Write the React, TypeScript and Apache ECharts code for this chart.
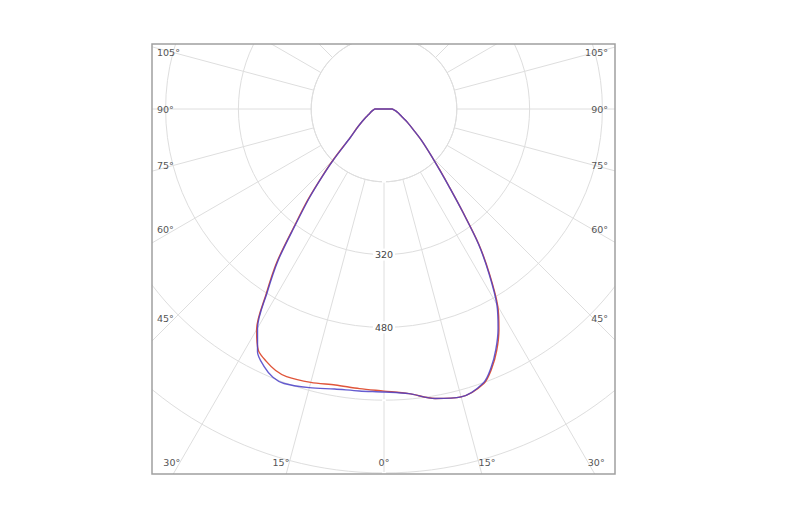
import React, { useEffect, useRef } from "react";
import * as echarts from "echarts";

// Angles (degrees from nadir; negative = left half-plane)
const ANGLES = [
  -180, -90, -85, -80, -75, -70, -65, -60, -55, -50, -45, -42.5, -40, -37.5, -35, -32.5, -30,
  -27.5, -25, -22.5, -20, -15, -10, -5, 0, 5, 10, 15, 20, 22.5, 25, 27.5, 30, 32.5, 35, 37.5,
  40, 42.5, 45, 50, 55, 60, 65, 70, 75, 80, 85, 90, 180,
];

// Luminous intensity (cd/klm) — plane drawn in red
const PLANE_RED = [
  0, 20, 23, 27, 31, 36, 45, 56, 72, 96, 157, 202, 260, 322, 410, 482, 560,
  598, 612, 622, 626, 622, 616, 617, 620, 628, 646, 655, 642, 618, 586, 547, 500, 433, 364, 283,
  223, 181, 150, 108, 78, 60, 46, 38, 32, 27, 22, 18, 0,
];

// Luminous intensity (cd/klm) — plane drawn in blue
const PLANE_BLUE = [
  0, 20, 23, 27, 31, 36, 45, 56, 72, 95, 155, 200, 256, 318, 405, 478, 556,
  602, 624, 638, 642, 634, 625, 622, 622, 628, 646, 655, 640, 615, 582, 543, 496, 430, 362, 282,
  222, 180, 150, 108, 78, 60, 46, 38, 32, 27, 22, 18, 0,
];

const RING_MAX = 960;
const RING_STEP = 160;
const RING_INNER = 160;
const RING_LABELS = [320, 480];
const ANGLE_STEP = 15;
const SIDE_LABEL_ANGLES = [105, 90, 75, 60, 45];
const BOTTOM_LABEL_ANGLES = [-30, -15, 0, 15, 30];

// layout
const W = 790;
const H = 522;
const CX = 384;
const CY = 109;
const PX_PER_UNIT = 0.455;
const FRAME = { x: 152, y: 44, w: 463, h: 430 };
const GRID_COLOR = "#dedede";
const LABEL_FONT = '9.5px "DejaVu Sans", Verdana, sans-serif';
const LABEL_COLOR = "#555";

export default function App() {
  const ref = useRef<HTMLDivElement>(null);

  useEffect(() => {
    if (!ref.current) return;
    const chart = echarts.init(ref.current, undefined, { renderer: "svg" });

    const toPolar = (vals: number[]) =>
      ANGLES.map((a, i) => [vals[i], (a + 360) % 360]);

    const fx0 = FRAME.x;
    const fy0 = FRAME.y;
    const fx1 = FRAME.x + FRAME.w;
    const fy1 = FRAME.y + FRAME.h;

    const masks = [
      { x: 0, y: 0, width: W, height: fy0 },
      { x: 0, y: fy1, width: W, height: H - fy1 },
      { x: 0, y: 0, width: fx0, height: H },
      { x: fx1, y: 0, width: W - fx1, height: H },
    ].map((s) => ({
      type: "rect",
      shape: s,
      style: { fill: "#ffffff" },
      silent: true,
      z: 100,
    }));

    const sideDx = 209;
    const bottomDy = 353;
    const textEl = (text: string, x: number, y: number, align: string) => ({
      type: "text",
      x,
      y,
      z: 102,
      silent: true,
      style: {
        text,
        fill: LABEL_COLOR,
        font: LABEL_FONT,
        align,
        textAlign: align,
        verticalAlign: "middle",
        textVerticalAlign: "middle",
      },
    });

    const labels: any[] = [];
    SIDE_LABEL_ANGLES.forEach((a) => {
      const r = (a * Math.PI) / 180;
      const y = CY + (sideDx * Math.cos(r)) / Math.sin(r);
      labels.push(textEl(`${a}°`, fx0 + 5, y, "left"));
      labels.push(textEl(`${a}°`, fx1 - 7, y, "right"));
    });
    BOTTOM_LABEL_ANGLES.forEach((a) => {
      const r = (a * Math.PI) / 180;
      const x = CX + bottomDy * Math.tan(r);
      const align = a < 0 ? "right" : a > 0 ? "left" : "center";
      labels.push(textEl(`${Math.abs(a)}°`, x, CY + bottomDy, align));
    });

    chart.setOption({
      animation: false,
      backgroundColor: "#ffffff",
      polar: {
        center: [CX, CY],
        radius: [0, RING_MAX * PX_PER_UNIT],
      },
      angleAxis: {
        type: "value",
        min: 0,
        max: 360,
        interval: ANGLE_STEP,
        startAngle: 270,
        clockwise: false,
        z: 0,
        axisLine: { show: false },
        axisTick: { show: false },
        axisLabel: { show: false },
        splitLine: { show: true, lineStyle: { color: GRID_COLOR, width: 1 } },
      },
      radiusAxis: {
        type: "value",
        min: 0,
        max: RING_MAX,
        interval: RING_STEP,
        z: 1,
        axisLine: { show: false },
        axisTick: { show: false },
        splitLine: { show: true, lineStyle: { color: GRID_COLOR, width: 1 } },
        axisLabel: {
          show: true,
          formatter: (v: number) => (RING_LABELS.includes(v) ? String(v) : ""),
          margin: 0,
          align: "center",
          verticalAlign: "middle",
          backgroundColor: "#ffffff",
          padding: [1, 2],
          color: "#444",
          fontSize: 9.5,
          fontFamily: '"DejaVu Sans", Verdana, sans-serif',
        },
      },
      series: [
        {
          name: "C0-C180",
          type: "line",
          coordinateSystem: "polar",
          data: toPolar(PLANE_RED),
          symbol: "none",
          showSymbol: false,
          smooth: 0.3,
          clip: false,
          z: 3,
          lineStyle: { color: "#e0553a", width: 1.4 },
        },
        {
          name: "C90-C270",
          type: "line",
          coordinateSystem: "polar",
          data: toPolar(PLANE_BLUE),
          symbol: "none",
          showSymbol: false,
          smooth: 0.3,
          clip: false,
          z: 4,
          lineStyle: { color: "#4a3fc8", width: 1.4, opacity: 0.85 },
        },
      ],
      graphic: [
        {
          type: "circle",
          z: 1,
          silent: true,
          shape: { cx: CX, cy: CY, r: RING_INNER * PX_PER_UNIT },
          style: { fill: "#ffffff", stroke: GRID_COLOR, lineWidth: 1 },
        },
        ...masks,
        {
          type: "rect",
          z: 101,
          silent: true,
          shape: { x: FRAME.x, y: FRAME.y, width: FRAME.w, height: FRAME.h },
          style: { fill: "none", stroke: "#a0a0a0", lineWidth: 1.5 },
        },
        ...labels,
      ],
    });

    return () => chart.dispose();
  }, []);

  return (
    <div
      ref={ref}
      style={{ position: "fixed", left: 0, top: 0, width: W, height: H, background: "#fff" }}
    />
  );
}
